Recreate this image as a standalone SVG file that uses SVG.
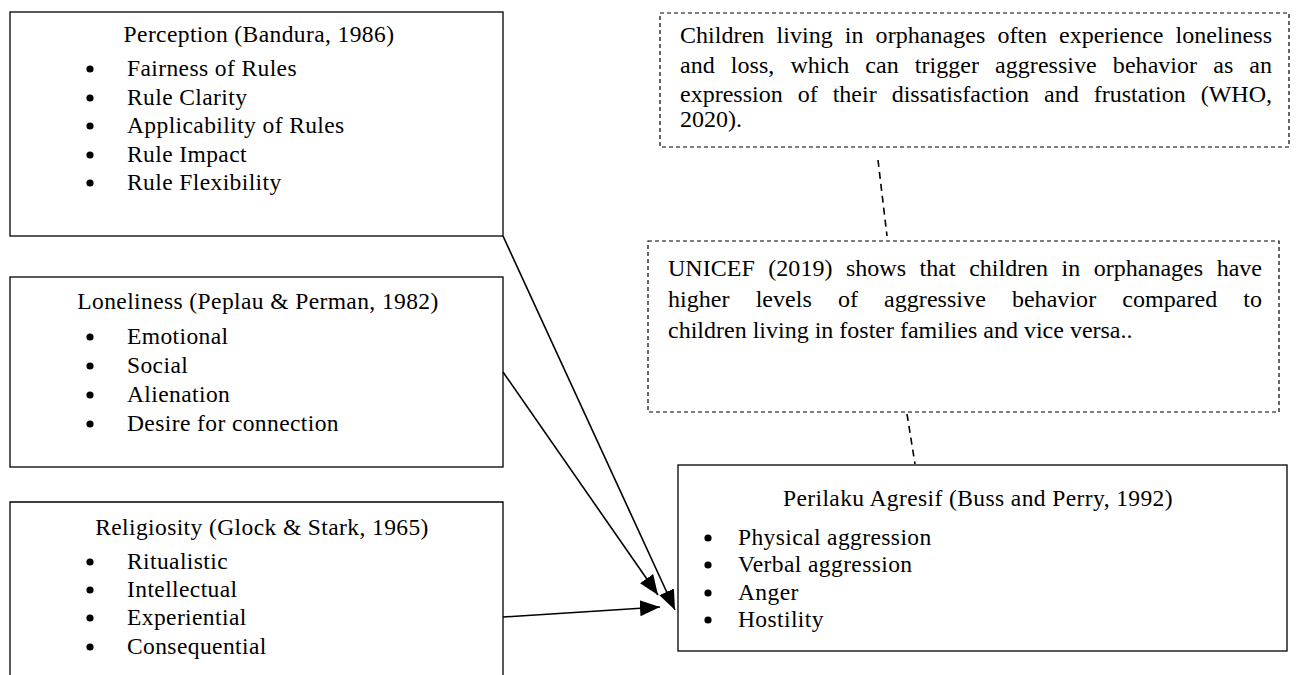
<svg xmlns="http://www.w3.org/2000/svg" width="1298" height="675" viewBox="0 0 1298 675">
<style>
.box{fill:#fff;stroke:#000;stroke-width:1.3}
.dbox{fill:#fff;stroke:#000;stroke-width:1.2;stroke-dasharray:4 3}
.t{font-family:"Liberation Serif","Times New Roman",serif;font-size:23.5px;fill:#000;letter-spacing:0.4px}
.c{text-anchor:middle}
.p{font-family:"Liberation Serif","Times New Roman",serif;font-size:24px;fill:#000}
.ln{stroke:#000;stroke-width:1.6;fill:none}
.dl{stroke:#000;stroke-width:1.6;fill:none;stroke-dasharray:7 5}
</style>
<defs>
<marker id="ah" markerUnits="userSpaceOnUse" markerWidth="22" markerHeight="18" refX="20" refY="9" orient="auto">
<path d="M0,1 L20,9 L0,17 Z" fill="#000"/>
</marker>
</defs>
<rect width="1298" height="675" fill="#fff"/>

<g id="perception">
<rect class="box" x="10" y="12" width="493" height="224"/>
<text class="t c" x="259" y="42">Perception (Bandura, 1986)</text>
<circle cx="90" cy="69" r="3.6"/><text class="t" x="127" y="76">Fairness of Rules</text>
<circle cx="90" cy="98" r="3.6"/><text class="t" x="127" y="105">Rule Clarity</text>
<circle cx="90" cy="126" r="3.6"/><text class="t" x="127" y="133">Applicability of Rules</text>
<circle cx="90" cy="155" r="3.6"/><text class="t" x="127" y="162">Rule Impact</text>
<circle cx="90" cy="183" r="3.6"/><text class="t" x="127" y="190">Rule Flexibility</text>
</g>

<g id="loneliness">
<rect class="box" x="10" y="277" width="493" height="190"/>
<text class="t c" x="258" y="309">Loneliness (Peplau &amp; Perman, 1982)</text>
<circle cx="90" cy="337" r="3.6"/><text class="t" x="127" y="344">Emotional</text>
<circle cx="90" cy="366" r="3.6"/><text class="t" x="127" y="373">Social</text>
<circle cx="90" cy="395" r="3.6"/><text class="t" x="127" y="402">Alienation</text>
<circle cx="90" cy="424" r="3.6"/><text class="t" x="127" y="431">Desire for connection</text>
</g>

<g id="religiosity">
<path class="box" d="M10,675 V502 H503 V675"/>
<text class="t c" x="262" y="535">Religiosity (Glock &amp; Stark, 1965)</text>
<circle cx="90" cy="562" r="3.6"/><text class="t" x="127" y="569">Ritualistic</text>
<circle cx="90" cy="590" r="3.6"/><text class="t" x="127" y="597">Intellectual</text>
<circle cx="90" cy="618" r="3.6"/><text class="t" x="127" y="625">Experiential</text>
<circle cx="90" cy="647" r="3.6"/><text class="t" x="127" y="654">Consequential</text>
</g>

<g id="who-note">
<rect class="dbox" x="660" y="13" width="629" height="134"/>
<text class="p" x="680" y="43" word-spacing="6" textLength="592" lengthAdjust="spacing">Children living in orphanages often experience loneliness</text>
<text class="p" x="680" y="73" word-spacing="10" textLength="592" lengthAdjust="spacing">and loss, which can trigger aggressive behavior as an</text>
<text class="p" x="680" y="102" word-spacing="9" textLength="592" lengthAdjust="spacing">expression of their dissatisfaction and frustation (WHO,</text>
<text class="p" x="680" y="127">2020).</text>
</g>

<g id="unicef-note">
<rect class="dbox" x="648" y="241" width="631" height="171"/>
<text class="p" x="668" y="276" word-spacing="7.5" textLength="594" lengthAdjust="spacing">UNICEF (2019) shows that children in orphanages have</text>
<text class="p" x="668" y="307" word-spacing="20" textLength="594" lengthAdjust="spacing">higher levels of aggressive behavior compared to</text>
<text class="p" x="668" y="338">children living in foster families and vice versa..</text>
</g>

<g id="perilaku">
<rect class="box" x="678" y="465" width="609" height="186"/>
<text class="t c" x="978" y="506">Perilaku Agresif (Buss and Perry, 1992)</text>
<circle cx="708" cy="538" r="3.6"/><text class="t" x="738" y="545">Physical aggression</text>
<circle cx="708" cy="565" r="3.6"/><text class="t" x="738" y="572">Verbal aggression</text>
<circle cx="708" cy="593" r="3.6"/><text class="t" x="738" y="600">Anger</text>
<circle cx="708" cy="620" r="3.6"/><text class="t" x="738" y="627">Hostility</text>
</g>

<g id="connectors">
<line class="ln" x1="503" y1="236" x2="675" y2="610" marker-end="url(#ah)"/>
<line class="ln" x1="503" y1="372" x2="658" y2="595" marker-end="url(#ah)"/>
<line class="ln" x1="503" y1="617" x2="660" y2="607" marker-end="url(#ah)"/>
<line class="dl" x1="878" y1="160" x2="887" y2="236"/>
<line class="dl" x1="907" y1="414" x2="915" y2="464"/>
</g>
</svg>
